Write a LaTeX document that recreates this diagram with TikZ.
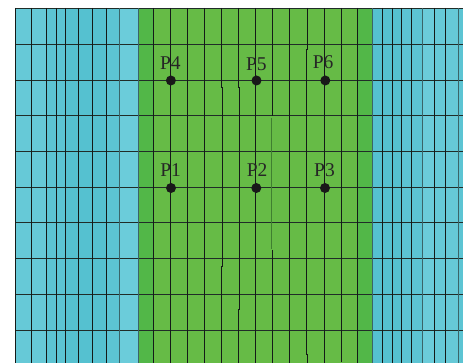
\documentclass[tikz,border=0pt]{standalone}
\usepackage{fontspec}
\setmainfont{Liberation Serif}
\definecolor{gr}{HTML}{66BB46}
\definecolor{grd}{HTML}{52B748}
\definecolor{ba}{HTML}{66C9D7}
\definecolor{bb}{HTML}{5CC4D3}
\definecolor{bc}{HTML}{55C1D0}
\definecolor{bd}{HTML}{6BCCDA}
\definecolor{gl}{HTML}{3A6468}
\definecolor{kl}{HTML}{141A18}
\definecolor{hl}{HTML}{202C28}
\definecolor{jl}{HTML}{3F7F30}
\tikzset{
  vline/.style={draw=kl,line width=0.8pt},
  vgrey/.style={draw=gl,line width=0.9pt},
  hline/.style={draw=hl,line width=0.9pt},
  faint/.style={draw=jl,line width=0.9pt},
  pt/.style={circle,fill=black!90,inner sep=0pt,minimum size=10pt},
  lab/.style={inner sep=0pt,font=\fontsize{19.5}{19.5}\selectfont,text=black!85}
}
\begin{document}
\begin{tikzpicture}[x=1pt,y=-1pt]
\useasboundingbox (0,0) rectangle (463,363);
% fills left blue
\fill[ba] (15.5,8) rectangle (46,363);
\fill[bb] (46,8) rectangle (65.5,363);
\fill[bc] (65.5,8) rectangle (106,363);
\fill[bb] (106,8) rectangle (119,363);
\fill[bd] (119,8) rectangle (138.3,363);
% green
\fill[grd] (138.3,8) rectangle (153.3,363);
\fill[gr] (153.3,8) rectangle (357.7,363);
\fill[grd] (357.7,8) rectangle (372.7,363);
% right blue
\fill[bc] (372.7,8) rectangle (401.7,363);
\fill[bb] (401.7,8) rectangle (422,363);
\fill[bd] (422,8) rectangle (434.3,363);
\fill[ba] (434.3,8) rectangle (458.7,363);
\fill[bb] (458.7,8) rectangle (463,363);
% horizontal lines
\foreach \y in {8,44.3,80,115.7,151.2,187.3,222.8,258.4,294,330}
  \draw[hline] (15.5,\y) -- (463,\y);
% straight vertical lines
\foreach \x in {15.5,31.5,46,56.5,65.5,78.5,92,106,153.3,170.7,187.7,204.7,255.7,324.7,357.7,382.7,392.7,401.7,411.7,434.3,445.7}
  \draw[vline] (\x,8) -- (\x,363);
\foreach \x in {119,138.3,372.7,422,458.7}
  \draw[vgrey] (\x,8) -- (\x,363);
% jogged vertical lines
\draw[vline] (221.7,8) -- (221.7,87) -- (222.3,87) -- (222.3,266.7) -- (221.3,266.7) -- (221.3,363);
\draw[vline] (238.7,8) -- (238.7,87) -- (239.7,87) -- (239.7,309) -- (238.3,309) -- (238.3,363);
\draw[vline] (272.3,8) -- (272.3,115.7);
\draw[faint] (271.5,118) -- (271.5,249.5);
\draw[vline] (272.7,250) -- (272.7,363);
\draw[vline] (289.3,8) -- (289.3,363);
\draw[vline] (307.3,8) -- (307.3,49.3) -- (306.7,49.3) -- (306.7,354) -- (307.7,354) -- (307.7,363);
\draw[vline] (341.7,8) -- (341.7,361.5);
% points
\node[pt] (d4) at (170.9,80.5) {};
\node[pt] (d5) at (256.5,80.5) {};
\node[pt] (d6) at (325.3,80.5) {};
\node[pt] (d1) at (171,188) {};
\node[pt] (d2) at (256.3,188) {};
\node[pt] (d3) at (325,188) {};
\node[lab] (t4) at (170.3,63.5) {P4};
\node[lab] (t5) at (256.3,63.8) {P5};
\node[lab] (t6) at (323.2,62.5) {P6};
\node[lab] (t1) at (170.7,170.2) {P1};
\node[lab] (t2) at (257.2,170.2) {P2};
\node[lab] (t3) at (324.5,169.7) {P3};
\end{tikzpicture}
\end{document}
